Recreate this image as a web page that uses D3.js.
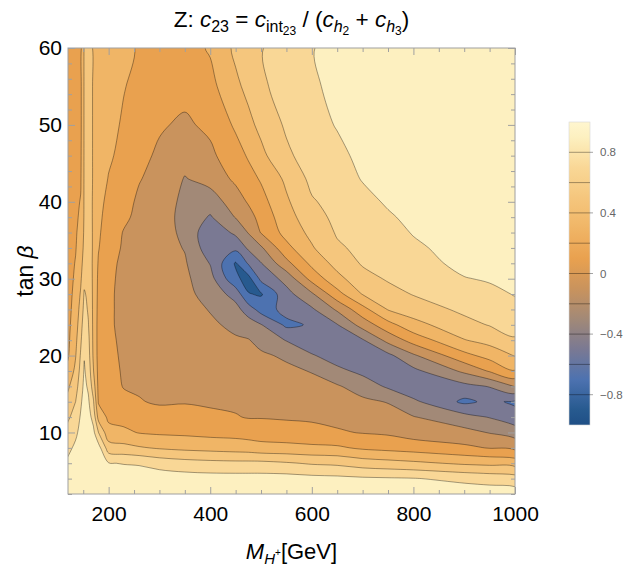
<!DOCTYPE html>
<html>
<head>
<meta charset="utf-8">
<script src="https://cdn.jsdelivr.net/npm/d3@7"></script>
<style>
  body { margin: 0; background: #fff; }
  svg { display: block; font-family: "Liberation Sans", Arial, sans-serif; }
</style>
</head>
<body>
<svg id="chart" width="638" height="569"></svg>
<script>
// sample grid (M_H+ in GeV, tan beta)
const massGrid = [120, 135, 145, 152, 160, 170, 180, 200, 230, 260, 300, 350, 400, 450, 475, 500, 550, 600, 650, 700, 750, 800, 900, 950, 1000];
const tanbGrid = [2, 4, 6, 8, 10, 12, 14, 16, 18, 20, 22, 24, 26, 28, 30, 32, 34, 36, 38, 40, 43, 46, 50, 55, 60];

// c23 per mass column, tan beta from 2 up to 60
const c23ByMass = [
  [0.95, 0.90, 0.84, 0.75, 0.67, 0.57, 0.46, 0.37, 0.25, 0.18, 0.16, 0.15, 0.14, 0.14, 0.13, 0.13, 0.13, 0.12, 0.12, 0.12, 0.11, 0.11, 0.11, 0.10, 0.10], // 120
  [0.97, 0.94, 0.90, 0.84, 0.76, 0.68, 0.60, 0.52, 0.45, 0.39, 0.35, 0.31, 0.28, 0.25, 0.23, 0.21, 0.19, 0.18, 0.17, 0.16, 0.16, 0.15, 0.15, 0.14, 0.14], // 135
  [0.98, 0.97, 0.95, 0.91, 0.86, 0.82, 0.77, 0.71, 0.66, 0.62, 0.57, 0.52, 0.47, 0.42, 0.37, 0.33, 0.29, 0.26, 0.23, 0.21, 0.18, 0.17, 0.16, 0.16, 0.15], // 145
  [0.99, 0.99, 0.98, 0.97, 0.95, 0.92, 0.88, 0.85, 0.82, 0.79, 0.75, 0.71, 0.66, 0.62, 0.55, 0.49, 0.45, 0.43, 0.42, 0.42, 0.42, 0.42, 0.42, 0.42, 0.42], // 152
  [0.99, 0.98, 0.97, 0.95, 0.92, 0.88, 0.83, 0.77, 0.72, 0.68, 0.65, 0.61, 0.58, 0.56, 0.54, 0.53, 0.52, 0.52, 0.51, 0.51, 0.50, 0.50, 0.50, 0.50, 0.50], // 160
  [0.98, 0.97, 0.95, 0.92, 0.85, 0.73, 0.62, 0.50, 0.41, 0.37, 0.36, 0.36, 0.36, 0.36, 0.36, 0.36, 0.37, 0.37, 0.37, 0.37, 0.38, 0.38, 0.38, 0.38, 0.38], // 170
  [0.97, 0.95, 0.92, 0.88, 0.60, 0.33, 0.18, 0.15, 0.14, 0.13, 0.13, 0.13, 0.14, 0.15, 0.16, 0.18, 0.21, 0.23, 0.25, 0.27, 0.30, 0.32, 0.34, 0.36, 0.38], // 180
  [0.96, 0.93, 0.81, 0.49, 0.27, 0.16, 0.11, 0.08, 0.06, 0.05, 0.04, 0.03, 0.03, 0.03, 0.04, 0.05, 0.07, 0.09, 0.11, 0.14, 0.19, 0.23, 0.27, 0.31, 0.34], // 200
  [0.95, 0.92, 0.79, 0.46, 0.24, 0.13, 0.05, -0.01, -0.02, -0.03, -0.04, -0.05, -0.05, -0.05, -0.05, -0.04, -0.02, -0.01, 0.03, 0.06, 0.10, 0.14, 0.17, 0.21, 0.25], // 230
  [0.95, 0.91, 0.78, 0.42, 0.19, 0.09, 0.01, -0.02, -0.04, -0.06, -0.07, -0.08, -0.08, -0.09, -0.09, -0.08, -0.07, -0.06, -0.04, -0.03, 0.01, 0.05, 0.09, 0.14, 0.18], // 260
  [0.95, 0.91, 0.72, 0.38, 0.17, 0.07, -0.02, -0.05, -0.07, -0.09, -0.10, -0.11, -0.12, -0.13, -0.13, -0.13, -0.12, -0.12, -0.11, -0.09, -0.06, -0.03, 0.02, 0.04, 0.05], // 300
  [0.95, 0.89, 0.68, 0.35, 0.16, 0.06, -0.01, -0.03, -0.05, -0.07, -0.09, -0.11, -0.13, -0.15, -0.16, -0.18, -0.21, -0.24, -0.26, -0.25, -0.21, -0.13, -0.03, 0.06, 0.12], // 350
  [0.94, 0.88, 0.66, 0.33, 0.14, 0.03, -0.02, -0.05, -0.08, -0.11, -0.14, -0.17, -0.21, -0.27, -0.33, -0.41, -0.52, -0.55, -0.42, -0.30, -0.13, -0.04, 0.04, 0.14, 0.22], // 400
  [0.94, 0.88, 0.65, 0.31, 0.13, 0.01, -0.03, -0.07, -0.10, -0.14, -0.18, -0.24, -0.33, -0.48, -0.76, -0.82, -0.55, -0.36, -0.19, -0.10, 0.04, 0.12, 0.23, 0.36, 0.44], // 450
  [0.94, 0.88, 0.65, 0.30, 0.11, -0.01, -0.04, -0.07, -0.11, -0.15, -0.19, -0.30, -0.50, -0.79, -0.87, -0.58, -0.37, -0.19, -0.08, 0.02, 0.13, 0.22, 0.35, 0.45, 0.50], // 475
  [0.94, 0.88, 0.65, 0.27, 0.10, -0.01, -0.05, -0.09, -0.13, -0.17, -0.26, -0.39, -0.68, -0.82, -0.55, -0.41, -0.23, 0.01, 0.07, 0.13, 0.22, 0.35, 0.45, 0.57, 0.59], // 500
  [0.94, 0.88, 0.62, 0.26, 0.08, -0.02, -0.07, -0.11, -0.16, -0.23, -0.41, -0.64, -0.55, -0.47, -0.33, -0.06, 0.14, 0.27, 0.32, 0.37, 0.44, 0.56, 0.63, 0.67, 0.69], // 550
  [0.93, 0.86, 0.58, 0.24, 0.06, -0.03, -0.09, -0.14, -0.21, -0.38, -0.55, -0.58, -0.43, -0.23, 0.07, 0.25, 0.38, 0.45, 0.52, 0.58, 0.65, 0.70, 0.74, 0.77, 0.79], // 600
  [0.93, 0.85, 0.56, 0.23, 0.02, -0.05, -0.11, -0.18, -0.35, -0.50, -0.55, -0.41, -0.17, 0.13, 0.34, 0.47, 0.57, 0.62, 0.65, 0.67, 0.72, 0.76, 0.81, 0.85, 0.87], // 650
  [0.93, 0.83, 0.50, 0.17, -0.01, -0.09, -0.16, -0.29, -0.45, -0.52, -0.42, -0.12, 0.13, 0.41, 0.53, 0.62, 0.65, 0.68, 0.71, 0.75, 0.81, 0.84, 0.88, 0.91, 0.93], // 700
  [0.93, 0.82, 0.47, 0.14, -0.03, -0.12, -0.21, -0.43, -0.55, -0.45, -0.14, 0.13, 0.41, 0.53, 0.62, 0.66, 0.70, 0.74, 0.78, 0.82, 0.86, 0.88, 0.90, 0.92, 0.94], // 750
  [0.93, 0.81, 0.44, 0.11, -0.09, -0.19, -0.36, -0.55, -0.45, -0.23, 0.08, 0.33, 0.50, 0.61, 0.66, 0.71, 0.77, 0.81, 0.84, 0.86, 0.88, 0.90, 0.92, 0.94, 0.95], // 800
  [0.92, 0.75, 0.37, 0.04, -0.14, -0.33, -0.64, -0.46, -0.16, 0.14, 0.39, 0.54, 0.64, 0.69, 0.79, 0.86, 0.87, 0.88, 0.89, 0.90, 0.91, 0.92, 0.93, 0.94, 0.95], // 900
  [0.91, 0.72, 0.35, -0.01, -0.21, -0.41, -0.56, -0.39, 0.02, 0.27, 0.47, 0.61, 0.67, 0.75, 0.82, 0.85, 0.87, 0.88, 0.89, 0.90, 0.91, 0.92, 0.93, 0.94, 0.95], // 950
  [0.90, 0.69, 0.32, -0.05, -0.29, -0.53, -0.63, -0.19, 0.19, 0.41, 0.58, 0.67, 0.74, 0.81, 0.84, 0.86, 0.88, 0.89, 0.90, 0.91, 0.92, 0.93, 0.94, 0.95, 0.96]  // 1000
];

const contourLevels = [-0.8, -0.6, -0.4, -0.2, 0, 0.2, 0.4, 0.6, 0.8];
const legendLabels = [0.8, 0.4, 0, -0.4, -0.8];
const xTickLabels = [200, 400, 600, 800, 1000];
const xMinorTicks = [150, 250, 300, 350, 450, 500, 550, 650, 700, 750, 850, 900, 950];
const yTickLabels = [10, 20, 30, 40, 50, 60];
const yMinorTicks = [2, 4, 6, 8, 12, 14, 16, 18, 22, 24, 26, 28, 32, 34, 36, 38, 42, 44, 46, 48, 52, 54, 56, 58];

// colours of the bands, lowest first, and the ramp used by the bar legend
const bandColors = ["#275a8f", "#4d72b0", "#7a7993", "#a28977", "#c9935d", "#e9a14f", "#f0b566", "#f5c67d", "#f9d796", "#fdf0c0"];
const rampStops = [-1, -0.9, -0.7, -0.5, -0.3, -0.1, 0.1, 0.3, 0.5, 0.7, 0.9, 1];
const rampColors = ["#1f4f86"].concat(bandColors, ["#fff6cf"]);

const frame = {left: 68, right: 515, top: 48, bottom: 494};
const frameColor = "#a0a0a0";

const svg = d3.select("#chart");

const x = d3.scaleLinear().domain([120, 1000]).range([frame.left, frame.right]);
const y = d3.scaleLinear().domain([2, 60]).range([frame.bottom, frame.top]);

// flatten the columns into the row-major grid that d3.contours wants
const nx = massGrid.length, ny = tanbGrid.length;
const grid = new Array(nx * ny);
for (let j = 0; j < ny; j++)
  for (let i = 0; i < nx; i++)
    grid[j * nx + i] = c23ByMass[i][j];

// grid coordinate (sample i sits at i + 0.5) -> data value, along an uneven axis
function gridToData(g, arr) {
  const u = g - 0.5;
  const k = Math.max(0, Math.min(arr.length - 2, Math.floor(u)));
  return arr[k] + (u - k) * (arr[k + 1] - arr[k]);
}

const contours = d3.contours().size([nx, ny]).thresholds(contourLevels)(grid);

const ringLine = d3.line().curve(d3.curveCatmullRomClosed.alpha(0.5));
function ringPath(ring) {
  const pts = ring.slice(0, -1).map(([gx, gy]) => [x(gridToData(gx, massGrid)), y(gridToData(gy, tanbGrid))]);
  return ringLine(pts);
}
function contourPath(c) {
  return c.coordinates.map(poly => poly.map(ringPath).join("")).join("");
}

svg.append("clipPath").attr("id", "plotclip")
  .append("rect")
    .attr("x", frame.left).attr("y", frame.top)
    .attr("width", frame.right - frame.left).attr("height", frame.bottom - frame.top);

const plot = svg.append("g").attr("clip-path", "url(#plotclip)");

plot.append("rect")
  .attr("x", frame.left).attr("y", frame.top)
  .attr("width", frame.right - frame.left).attr("height", frame.bottom - frame.top)
  .attr("fill", bandColors[0]);

plot.selectAll("path.band")
  .data(contours)
  .join("path")
    .attr("class", "band")
    .attr("d", contourPath)
    .attr("fill", (d, i) => bandColors[i + 1])
    .attr("fill-rule", "evenodd");

plot.selectAll("path.iso")
  .data(contours)
  .join("path")
    .attr("class", "iso")
    .attr("d", contourPath)
    .attr("fill", "none")
    .attr("stroke", "#000")
    .attr("stroke-opacity", 0.45)
    .attr("stroke-width", 0.8);

// frame and inward ticks on all four sides
svg.append("rect")
  .attr("x", frame.left).attr("y", frame.top)
  .attr("width", frame.right - frame.left).attr("height", frame.bottom - frame.top)
  .attr("fill", "none").attr("stroke", frameColor).attr("stroke-width", 1);

function styleAxis(g) {
  g.select(".domain").remove();
  g.selectAll("line").attr("stroke", frameColor);
  g.selectAll("text").attr("fill", "#000").style("font-size", "21px")
    .style("font-family", "'Liberation Sans', Arial, sans-serif");
}

svg.append("g").attr("transform", `translate(0,${frame.bottom})`)
  .call(d3.axisBottom(x).tickValues(xTickLabels).tickSize(-7).tickPadding(12).tickFormat(d3.format("d")))
  .call(styleAxis);
svg.append("g").attr("transform", `translate(0,${frame.bottom})`)
  .call(d3.axisBottom(x).tickValues(xMinorTicks).tickSize(-4).tickFormat(""))
  .call(styleAxis);
svg.append("g").attr("transform", `translate(0,${frame.top})`)
  .call(d3.axisTop(x).tickValues(xTickLabels).tickSize(-7).tickFormat(""))
  .call(styleAxis);
svg.append("g").attr("transform", `translate(0,${frame.top})`)
  .call(d3.axisTop(x).tickValues(xMinorTicks).tickSize(-4).tickFormat(""))
  .call(styleAxis);

svg.append("g").attr("transform", `translate(${frame.left},0)`)
  .call(d3.axisLeft(y).tickValues(yTickLabels).tickSize(-7).tickPadding(6).tickFormat(d3.format("d")))
  .call(styleAxis);
svg.append("g").attr("transform", `translate(${frame.left},0)`)
  .call(d3.axisLeft(y).tickValues(yMinorTicks).tickSize(-4).tickFormat(""))
  .call(styleAxis);
svg.append("g").attr("transform", `translate(${frame.right},0)`)
  .call(d3.axisRight(y).tickValues(yTickLabels).tickSize(-7).tickFormat(""))
  .call(styleAxis);
svg.append("g").attr("transform", `translate(${frame.right},0)`)
  .call(d3.axisRight(y).tickValues(yMinorTicks).tickSize(-4).tickFormat(""))
  .call(styleAxis);

// title: Z: c23 = c_int23 / (c_h2 + c_h3)
const title = svg.append("text")
  .attr("x", (frame.left + frame.right) / 2).attr("y", 27)
  .attr("text-anchor", "middle").style("font-size", "22.5px").attr("fill", "#000");
function part(txt, opts) {
  const t = title.append("tspan").text(txt);
  if (opts && opts.italic) t.style("font-style", "italic");
  if (opts && opts.size) t.style("font-size", opts.size + "px");
  if (opts && opts.dy) t.attr("dy", opts.dy);
  return t;
}
part("Z: ");
part("c", {italic: true});
part("23", {size: 16, dy: 5});
part(" = ", {dy: -5});
part("c", {italic: true});
part("int", {size: 16, dy: 5});
part("23", {size: 12, dy: 3});
part(" / (", {dy: -8});
part("c", {italic: true});
part("h", {italic: true, size: 16, dy: 5});
part("2", {size: 12, dy: 3});
part(" + ", {dy: -8});
part("c", {italic: true});
part("h", {italic: true, size: 16, dy: 5});
part("3", {size: 12, dy: 3});
part(")", {dy: -8});

// axis titles
const xt = svg.append("text")
  .attr("x", (frame.left + frame.right) / 2).attr("y", 559)
  .attr("text-anchor", "middle").style("font-size", "22px").attr("fill", "#000");
xt.append("tspan").text("M").style("font-style", "italic");
xt.append("tspan").text("H").style("font-style", "italic").style("font-size", "15px").attr("dy", 5);
xt.append("tspan").text("+").style("font-size", "10px").attr("dy", -8);
xt.append("tspan").text("[GeV]").attr("dy", 3);

const yt = svg.append("text")
  .attr("transform", `translate(33,${(frame.top + frame.bottom) / 2}) rotate(-90)`)
  .attr("text-anchor", "middle").style("font-size", "23px").attr("fill", "#000");
yt.append("tspan").text("tan ");
yt.append("tspan").text("β").style("font-style", "italic");

// bar legend
const bar = {x: 569, width: 21, top: 122, bottom: 425};
const yBar = d3.scaleLinear().domain([-1, 1]).range([bar.bottom, bar.top]);
const ramp = d3.scaleLinear().domain(rampStops).range(rampColors);

const grad = svg.append("defs").append("linearGradient")
  .attr("id", "barramp").attr("x1", 0).attr("y1", 1).attr("x2", 0).attr("y2", 0);
grad.selectAll("stop")
  .data(d3.range(0, 1.0001, 0.05))
  .join("stop")
    .attr("offset", d => d)
    .attr("stop-color", d => ramp(-1 + 2 * d));

svg.append("rect")
  .attr("x", bar.x).attr("y", bar.top)
  .attr("width", bar.width).attr("height", bar.bottom - bar.top)
  .attr("fill", "url(#barramp)")
  .attr("stroke", "#d8d8d8").attr("stroke-width", 0.6);

svg.selectAll("line.barlevel")
  .data(contourLevels)
  .join("line")
    .attr("class", "barlevel")
    .attr("x1", bar.x)
    .attr("x2", d => legendLabels.includes(d) ? bar.x + bar.width + 3 : bar.x + bar.width)
    .attr("y1", d => yBar(d)).attr("y2", d => yBar(d))
    .attr("stroke", "#000").attr("stroke-opacity", 0.45).attr("stroke-width", 0.8);

svg.selectAll("text.barlabel")
  .data(legendLabels)
  .join("text")
    .attr("class", "barlabel")
    .attr("x", bar.x + bar.width + 10)
    .attr("y", d => yBar(d))
    .attr("dy", "0.35em")
    .style("font-size", "11.5px")
    .attr("fill", "#666")
    .text(d => d < 0 ? "\u2212" + Math.abs(d) : String(d));
</script>
</body>
</html>
